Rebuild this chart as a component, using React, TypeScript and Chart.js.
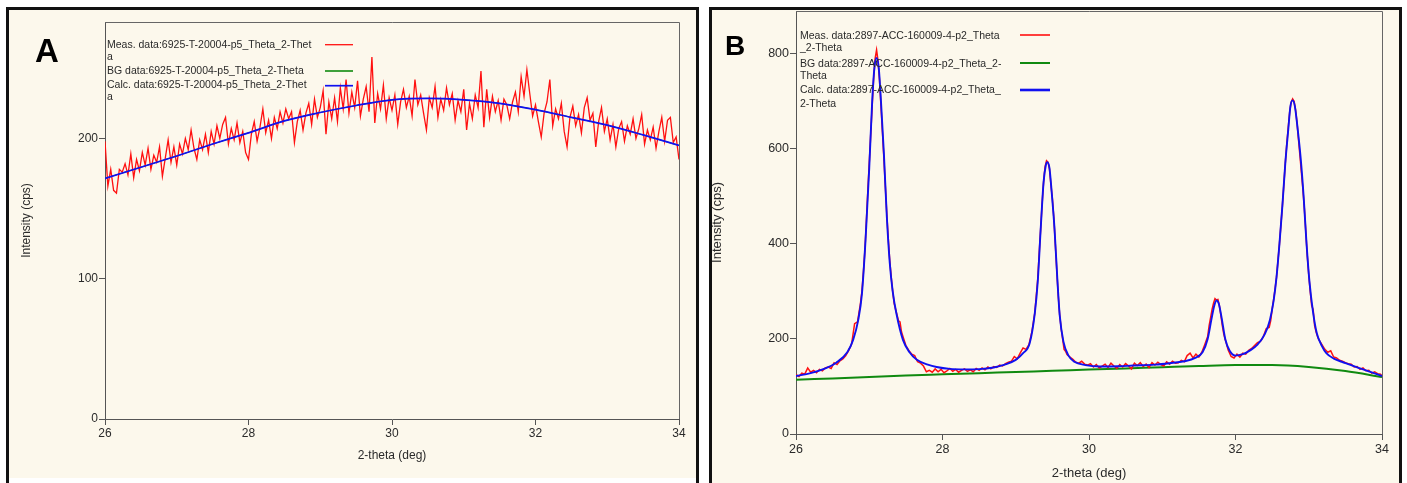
import React, { useEffect, useRef } from "react";
import { Chart, registerables } from "chart.js";

Chart.register(...registerables);

const FONT = '"Liberation Sans", Arial, Helvetica, sans-serif';
const CREAM = "rgb(252, 248, 236)";

// ---------- shared axis data ----------
const xTicks = [26, 28, 30, 32, 34];
const yTicksA = [0, 100, 200];
const yTicksB = [0, 200, 400, 600, 800];
const xTitle = "2-theta (deg)";
const yTitle = "Intensity (cps)";

// ---------- Panel A data ----------
const measAStart = 26;
const measAStep = 0.04;
const measAValues = [
  198, 166, 178, 163, 161, 178, 176, 182, 174, 189,
  172, 185, 177, 190, 181, 193, 178, 188, 183, 194,
  173, 186, 199, 183, 194, 181, 196, 189, 200, 192,
  206, 193, 185, 199, 192, 203, 190, 205, 196, 209,
  200, 210, 215, 196, 207, 199, 211, 197, 205, 190,
  185, 203, 212, 198, 208, 221, 204, 213, 200, 215,
  207, 219, 211, 221, 214, 219, 197, 212, 220, 206,
  218, 225, 210, 228, 215, 222, 234, 203, 226, 214,
  229, 212, 236, 221, 242, 218, 233, 222, 241, 216,
  228, 237, 219, 258, 211, 232, 221, 238, 214, 229,
  220, 231, 210, 226, 235, 222, 230, 216, 242, 224,
  231, 218, 206, 229, 222, 237, 215, 228, 220, 236,
  224, 232, 213, 227, 219, 235, 206, 225, 214, 231,
  222, 248, 208, 235, 215, 230, 219, 227, 213, 228,
  224, 214, 226, 233, 219, 244, 230, 249, 232, 216,
  224, 212, 201, 218, 226, 242, 209, 221, 214, 225,
  205, 194, 215, 223, 209, 217, 204, 222, 229, 213,
  218, 194, 212, 222, 205, 214, 199, 210, 194, 207,
  212, 198, 209, 203, 214, 200, 207, 217, 196, 206,
  199, 208, 193, 205, 215, 198, 213, 215, 197, 201,
  185,
];
const calcA: [number, number][] = [
  [26, 171.5], [26.5, 179.5], [27, 187.5], [27.5, 196], [28, 204],
  [28.5, 212.5], [29, 218.5], [29.5, 223.5], [30, 227.5], [30.5, 228.5],
  [31, 227.5], [31.5, 225], [32, 220.5], [32.5, 215], [33, 209.5],
  [33.5, 202.5], [34, 195],
];
const bgA: [number, number][] = [
  [26, 171.5], [26.5, 179.5], [27, 187.5], [27.5, 196], [28, 204],
  [28.5, 212.5], [29, 218.5], [29.5, 223.5], [30, 227.5], [30.5, 228.5],
  [31, 227.5], [31.5, 225], [32, 220.5], [32.5, 215], [33, 209.5],
  [33.5, 202.5], [34, 195],
];
const legendA = [
  ["Meas. data:6925-T-20004-p5_Theta_2-Thet", "a"],
  ["BG data:6925-T-20004-p5_Theta_2-Theta"],
  ["Calc. data:6925-T-20004-p5_Theta_2-Thet", "a"],
];

// ---------- Panel B data ----------
const measB: [number, number][] = [
  [26.00, 125], [26.04, 121], [26.08, 128], [26.12, 126], [26.16, 139], [26.20, 130],
  [26.24, 134], [26.28, 129], [26.32, 136], [26.36, 133], [26.40, 139], [26.44, 141],
  [26.48, 138], [26.52, 150], [26.56, 146], [26.60, 154], [26.64, 158], [26.68, 165],
  [26.72, 176], [26.76, 190], [26.80, 232], [26.84, 236], [26.88, 275], [26.90, 300],
  [26.92, 340], [26.94, 385], [26.96, 445], [26.98, 510], [27.00, 570], [27.02, 630],
  [27.04, 690], [27.06, 748], [27.08, 790], [27.10, 808], [27.12, 785], [27.14, 745],
  [27.16, 690], [27.18, 635], [27.20, 580], [27.22, 520], [27.24, 462], [27.26, 410],
  [27.28, 365], [27.30, 330], [27.32, 300], [27.34, 275], [27.36, 262], [27.38, 250],
  [27.40, 238], [27.42, 236], [27.44, 215], [27.46, 205], [27.50, 186], [27.54, 176],
  [27.58, 168], [27.62, 165], [27.66, 152], [27.70, 149], [27.74, 143], [27.78, 131],
  [27.82, 134], [27.86, 130], [27.90, 137], [27.94, 131], [27.98, 136], [28.02, 129],
  [28.06, 133], [28.10, 138], [28.14, 132], [28.18, 136], [28.22, 130], [28.26, 134],
  [28.30, 137], [28.34, 132], [28.38, 135], [28.42, 131], [28.46, 138], [28.50, 134],
  [28.54, 139], [28.58, 135], [28.62, 141], [28.66, 137], [28.70, 142], [28.74, 140],
  [28.78, 145], [28.82, 143], [28.86, 148], [28.90, 151], [28.94, 153], [28.98, 163],
  [29.02, 158], [29.06, 170], [29.10, 181], [29.14, 178], [29.18, 188], [29.22, 215],
  [29.26, 255], [29.28, 290], [29.30, 325], [29.32, 380], [29.34, 432], [29.36, 485],
  [29.38, 530], [29.40, 562], [29.42, 575], [29.44, 572], [29.46, 558], [29.48, 525],
  [29.50, 495], [29.52, 455], [29.54, 400], [29.56, 345], [29.58, 292], [29.60, 250],
  [29.62, 222], [29.64, 200], [29.66, 178], [29.68, 174], [29.70, 167], [29.74, 162],
  [29.78, 157], [29.82, 151], [29.86, 149], [29.90, 153], [29.94, 147], [29.98, 145],
  [30.02, 148], [30.06, 141], [30.10, 146], [30.14, 139], [30.18, 143], [30.22, 147],
  [30.26, 140], [30.30, 149], [30.34, 143], [30.38, 138], [30.42, 146], [30.46, 141],
  [30.50, 148], [30.54, 143], [30.58, 137], [30.62, 149], [30.66, 144], [30.70, 150],
  [30.74, 142], [30.78, 147], [30.82, 140], [30.86, 150], [30.90, 145], [30.94, 151],
  [30.98, 146], [31.02, 143], [31.06, 152], [31.10, 147], [31.14, 153], [31.18, 149],
  [31.22, 150], [31.26, 155], [31.30, 152], [31.34, 165], [31.38, 170], [31.42, 160],
  [31.46, 168], [31.50, 162], [31.54, 172], [31.58, 188], [31.62, 205], [31.64, 228],
  [31.66, 245], [31.68, 262], [31.70, 275], [31.72, 285], [31.74, 282], [31.76, 283],
  [31.78, 270], [31.80, 250], [31.82, 228], [31.84, 210], [31.86, 198], [31.88, 188],
  [31.90, 177], [31.94, 163], [31.98, 160], [32.02, 168], [32.06, 162], [32.10, 170],
  [32.14, 168], [32.18, 176], [32.22, 180], [32.26, 186], [32.30, 192], [32.34, 195],
  [32.38, 205], [32.42, 222], [32.46, 224], [32.48, 238], [32.50, 262], [32.52, 282],
  [32.54, 305], [32.56, 330], [32.58, 365], [32.60, 400], [32.62, 440], [32.64, 480],
  [32.66, 525], [32.68, 570], [32.70, 610], [32.72, 645], [32.74, 678], [32.76, 698],
  [32.78, 705], [32.80, 700], [32.82, 682], [32.84, 655], [32.86, 620], [32.88, 585],
  [32.90, 550], [32.92, 515], [32.94, 475], [32.96, 425], [32.98, 375], [33.00, 335],
  [33.02, 300], [33.04, 270], [33.06, 262], [33.08, 228], [33.10, 215], [33.12, 205],
  [33.14, 198], [33.18, 188], [33.22, 178], [33.26, 172], [33.30, 175], [33.34, 162],
  [33.38, 160], [33.42, 155], [33.46, 153], [33.50, 150], [33.54, 148], [33.58, 147],
  [33.62, 141], [33.66, 142], [33.70, 136], [33.74, 139], [33.78, 133], [33.82, 134],
  [33.86, 128], [33.90, 131], [33.94, 127], [33.98, 126], [34.00, 122],
];
const calcB: [number, number][] = [
  [26.00, 122], [26.20, 128], [26.40, 138], [26.55, 150], [26.70, 172], [26.78, 198],
  [26.85, 240], [26.90, 295], [26.95, 410], [27.00, 560], [27.04, 700], [27.07, 770],
  [27.10, 791], [27.13, 770], [27.16, 700], [27.20, 590], [27.24, 457], [27.28, 360],
  [27.32, 300], [27.37, 254], [27.46, 198], [27.55, 172], [27.65, 156], [27.80, 146],
  [27.92, 141], [28.10, 137], [28.30, 136], [28.50, 136.5], [28.70, 140], [28.85, 146],
  [29.00, 156], [29.10, 170], [29.19, 191], [29.26, 254], [29.30, 320], [29.34, 430],
  [29.38, 530], [29.41, 565], [29.43, 572], [29.46, 560], [29.49, 510], [29.53, 430],
  [29.57, 320], [29.60, 250], [29.65, 195], [29.72, 165], [29.80, 152], [29.95, 145],
  [30.15, 142], [30.40, 142.5], [30.60, 144], [30.90, 146], [31.10, 149], [31.30, 153],
  [31.45, 160], [31.55, 172], [31.62, 200], [31.67, 240], [31.71, 270], [31.74, 281],
  [31.77, 275], [31.81, 245], [31.86, 200], [31.92, 175], [32.00, 165], [32.10, 168],
  [32.20, 176], [32.30, 188], [32.40, 210], [32.47, 240], [32.52, 280], [32.56, 330],
  [32.60, 400], [32.64, 480], [32.68, 570], [32.72, 640], [32.75, 690], [32.78, 702],
  [32.81, 690], [32.85, 640], [32.89, 580], [32.93, 500], [32.97, 400], [33.01, 320],
  [33.06, 255], [33.11, 212], [33.18, 185], [33.24, 170], [33.35, 158], [33.45, 152],
  [33.56, 146], [33.70, 138], [33.85, 130], [34.00, 122],
];
const bgB: [number, number][] = [
  [26, 114], [26.5, 117], [27, 120], [27.5, 123], [28, 125.5], [28.5, 128],
  [29, 130.5], [29.5, 133], [30, 135.5], [30.5, 138], [31, 140.5], [31.5, 143],
  [32, 145], [32.5, 145], [33, 141], [33.5, 132.5], [34, 120],
];
const legendB = [
  ["Meas. data:2897-ACC-160009-4-p2_Theta", "_2-Theta"],
  ["BG data:2897-ACC-160009-4-p2_Theta_2-", "Theta"],
  ["Calc. data:2897-ACC-160009-4-p2_Theta_", "2-Theta"],
];

const toXY = (arr: [number, number][]) => arr.map(([x, y]) => ({ x, y }));

const overlayPlugin = {
  id: "overlay",
  afterDatasetsDraw(chart: any, _args: any, opts: any) {
    const { ctx, chartArea } = chart;
    const { left, right, top, bottom } = chartArea;
    ctx.save();
    // top & right frame of plot box
    ctx.strokeStyle = "#666";
    ctx.lineWidth = 1;
    ctx.beginPath();
    ctx.moveTo(left, Math.round(top) + 0.5);
    ctx.lineTo(Math.round(right) + 0.5, Math.round(top) + 0.5);
    ctx.lineTo(Math.round(right) + 0.5, bottom);
    ctx.stroke();
    // legend
    ctx.font = `${opts.legendSize}px ${FONT}`;
    ctx.fillStyle = "#2a2a2a";
    ctx.textBaseline = "middle";
    ctx.textAlign = "left";
    let row = 0;
    opts.legend.forEach((lines: string[], i: number) => {
      lines.forEach((t: string) => {
        ctx.fillText(t, opts.textX, opts.rowY[row]);
        row++;
      });
      const s = opts.samples[i];
      ctx.strokeStyle = s.c;
      ctx.lineWidth = s.w;
      ctx.beginPath();
      ctx.moveTo(opts.sx1, s.y);
      ctx.lineTo(opts.sx2, s.y);
      ctx.stroke();
    });
    // panel letter
    ctx.font = `bold ${opts.letter.size}px ${FONT}`;
    ctx.fillStyle = "#000";
    ctx.textBaseline = "alphabetic";
    ctx.fillText(opts.letter.t, opts.letter.x, opts.letter.y);
    ctx.restore();
  },
};

function makeOptions(p: any) {
  return {
    responsive: false,
    maintainAspectRatio: false,
    animation: false,
    devicePixelRatio: 1,
    events: [],
    layout: { padding: p.padding },
    plugins: {
      legend: { display: false },
      tooltip: { enabled: false },
      overlay: p.overlay,
    },
    scales: {
      x: {
        type: "linear",
        min: 26,
        max: 34,
        afterBuildTicks: (s: any) => {
          s.ticks = xTicks.map((v) => ({ value: v }));
        },
        afterFit: (s: any) => {
          s.height = p.xAxisH;
        },
        border: { display: true, color: "#555", width: 1 },
        grid: { drawOnChartArea: false, drawTicks: true, tickLength: 6, color: "#555" },
        ticks: {
          color: "#2a2a2a",
          font: { family: FONT, size: p.tickSize },
          padding: p.xTickPad,
          maxRotation: 0,
          autoSkip: false,
        },
        title: {
          display: true,
          text: xTitle,
          color: "#2a2a2a",
          font: { family: FONT, size: p.titleSize },
          padding: { top: 0, bottom: p.xTitlePad },
        },
      },
      y: {
        type: "linear",
        min: 0,
        max: p.yMax,
        afterBuildTicks: (s: any) => {
          s.ticks = p.yTicks.map((v: number) => ({ value: v }));
        },
        afterFit: (s: any) => {
          s.width = p.yAxisW;
        },
        border: { display: true, color: "#555", width: 1 },
        grid: { drawOnChartArea: false, drawTicks: true, tickLength: 6, color: "#555" },
        ticks: {
          color: "#2a2a2a",
          font: { family: FONT, size: p.tickSize },
          padding: 1,
          autoSkip: false,
        },
        title: {
          display: true,
          text: yTitle,
          color: "#2a2a2a",
          font: { family: FONT, size: p.titleSize },
          padding: { top: p.yTitlePad, bottom: 0 },
        },
      },
    },
  };
}

function configA(): any {
  const meas = measAValues.map((y, i) => ({ x: measAStart + i * measAStep, y }));
  return {
    type: "line",
    data: {
      datasets: [
        { label: legendA[2].join(""), data: toXY(calcA), borderColor: "#1010f0", borderWidth: 1.7, pointRadius: 0, cubicInterpolationMode: "monotone", order: 0 },
        { label: legendA[0].join(""), data: meas, borderColor: "#ff1010", borderWidth: 1.3, pointRadius: 0, tension: 0, order: 1 },
        { label: legendA[1].join(""), data: toXY(bgA), borderColor: "#108a10", borderWidth: 1, pointRadius: 0, cubicInterpolationMode: "monotone", order: 2 },
      ],
    },
    options: makeOptions({
      padding: { left: 0, right: 21, top: 22, bottom: 0 },
      xAxisH: 64,
      yAxisW: 105,
      yMax: 283,
      yTicks: yTicksA,
      tickSize: 12,
      titleSize: 12,
      xTickPad: 1,
      xTitlePad: 19.8,
      yTitlePad: 19.8,
      overlay: {
        legend: legendA,
        legendSize: 10.5,
        textX: 107,
        rowY: [45.5, 57, 71, 85.5, 97],
        sx1: 325,
        sx2: 353,
        samples: [
          { c: "#ff1010", w: 1.3, y: 44.7 },
          { c: "#108a10", w: 1.6, y: 71 },
          { c: "#1010f0", w: 1.7, y: 85.7 },
        ],
        letter: { t: "A", x: 35, y: 62, size: 33 },
      },
    }),
    plugins: [overlayPlugin],
  };
}

function configB(): any {
  return {
    type: "line",
    data: {
      datasets: [
        { label: legendB[2].join(""), data: toXY(calcB), borderColor: "#1010f0", borderWidth: 1.9, pointRadius: 0, cubicInterpolationMode: "monotone", order: 0 },
        { label: legendB[0].join(""), data: toXY(measB), borderColor: "#ff1010", borderWidth: 1.5, pointRadius: 0, tension: 0, order: 1 },
        { label: legendB[1].join(""), data: toXY(bgB), borderColor: "#108a10", borderWidth: 2, pointRadius: 0, cubicInterpolationMode: "monotone", order: 2 },
      ],
    },
    options: makeOptions({
      padding: { left: 0, right: 25, top: 11, bottom: 0 },
      xAxisH: 49,
      yAxisW: 96,
      yMax: 890,
      yTicks: yTicksB,
      tickSize: 12.5,
      titleSize: 13,
      xTickPad: 2,
      xTitlePad: 2.2,
      yTitlePad: 9.2,
      overlay: {
        legend: legendB,
        legendSize: 10.5,
        textX: 100,
        rowY: [36, 48.3, 64, 76.3, 90.3, 104],
        sx1: 320,
        sx2: 350,
        samples: [
          { c: "#ff1010", w: 1.6, y: 35 },
          { c: "#108a10", w: 2, y: 63 },
          { c: "#1010f0", w: 2.6, y: 90 },
        ],
        letter: { t: "B", x: 25, y: 55, size: 28 },
      },
    }),
    plugins: [overlayPlugin],
  };
}

function ChartCanvas({ make, left, width }: { make: () => any; left: number; width: number }) {
  const ref = useRef<HTMLCanvasElement>(null);
  useEffect(() => {
    const chart = new Chart(ref.current as HTMLCanvasElement, make());
    return () => chart.destroy();
  }, []);
  return (
    <canvas
      ref={ref}
      width={width}
      height={483}
      style={{ position: "absolute", left, top: 0, width, height: 483 }}
    />
  );
}

export default function App() {
  return (
    <div
      style={{
        position: "absolute",
        left: 0,
        top: 0,
        width: 1407,
        height: 483,
        background: "#fff",
        overflow: "hidden",
      }}
    >
      <div
        style={{
          position: "absolute",
          left: 6,
          top: 7,
          width: 693,
          height: 480,
          boxSizing: "border-box",
          borderLeft: "3px solid #111",
          borderTop: "3px solid #111",
          borderRight: "3px solid #111",
          background: CREAM,
        }}
      />
      <div style={{ position: "absolute", left: 9, top: 478, width: 687, height: 5, background: "#fff" }} />
      <div
        style={{
          position: "absolute",
          left: 709,
          top: 7,
          width: 693,
          height: 480,
          boxSizing: "border-box",
          borderLeft: "3px solid #111",
          borderTop: "3px solid #111",
          borderRight: "3px solid #111",
          background: CREAM,
        }}
      />
      <ChartCanvas make={configA} left={0} width={700} />
      <ChartCanvas make={configB} left={700} width={707} />
    </div>
  );
}
